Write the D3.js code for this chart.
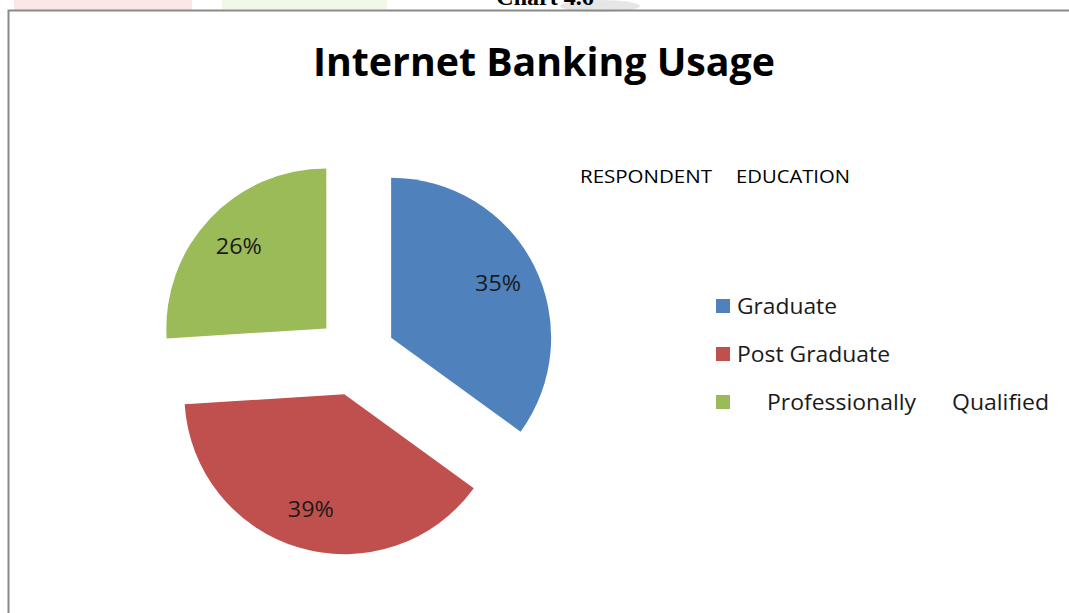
<!DOCTYPE html>
<html>
<head>
<meta charset="utf-8">
<script src="https://cdn.jsdelivr.net/npm/d3@7"></script>
<style>
  html, body { margin: 0; padding: 0; background: #fff; }
  svg { display: block; }
  text { font-family: "Open Sans", "Noto Sans", sans-serif; fill: #000; }
</style>
</head>
<body>
<svg id="chart" width="1069" height="613"></svg>
<script>
// Internet banking usage by respondent education
const categories = ["Graduate", "Post Graduate", "Professionally Qualified"];
const shares = [35, 39, 26];
const colors = ["#4F81BD", "#C0504D", "#9BBB59"];
const chartTitle = "Internet Banking Usage";
const legendTitleWords = ["RESPONDENT", "EDUCATION"];
const legendLabelParts = [["Graduate"], ["Post Graduate"], ["Professionally", "Qualified"]];

const svg = d3.select("#chart");
const W = 1069, H = 613;

// faint page colours above the chart frame
svg.append("rect").attr("x", 14).attr("y", 0).attr("width", 178).attr("height", 10)
  .attr("fill", "#fde6e6");
svg.append("rect").attr("x", 222).attr("y", 0).attr("width", 165).attr("height", 10)
  .attr("fill", "#f1f9e6");
svg.append("ellipse").attr("cx", 600).attr("cy", 6).attr("rx", 40).attr("ry", 6)
  .attr("fill", "#e6e6e6");

// caption of the figure, running off the top edge
svg.append("text")
  .attr("x", 545).attr("y", 5)
  .attr("text-anchor", "middle")
  .style("font-family", "'Liberation Serif', serif")
  .style("font-weight", "bold")
  .style("font-size", "24px")
  .text("Chart 4.6");

// chart frame
svg.append("path")
  .attr("d", `M8.5,${H} L8.5,10.5 L${W},10.5`)
  .attr("fill", "none")
  .attr("stroke", "#8a8a8a")
  .attr("stroke-width", 2);

// title
svg.append("text")
  .attr("x", 313).attr("y", 76)
  .attr("textLength", 462)
  .attr("lengthAdjust", "spacingAndGlyphs")
  .style("font-weight", "bold")
  .style("font-size", "40px")
  .text(chartTitle);

// pie
const cx = 355.5, cy = 355.8, R = 160, explode = 40, labelR = 120;
const pie = d3.pie().sort(null).value(d => d)(shares);
const arc = d3.arc().innerRadius(0).outerRadius(R);
const labelArc = d3.arc().innerRadius(labelR).outerRadius(labelR);

const g = svg.append("g").attr("transform", `translate(${cx},${cy})`);
const slices = g.selectAll("g.slice").data(pie).enter().append("g")
  .attr("class", "slice")
  .attr("transform", d => {
    const m = (d.startAngle + d.endAngle) / 2;
    return `translate(${explode * Math.sin(m)},${-explode * Math.cos(m)})`;
  });
slices.append("path")
  .attr("d", arc)
  .attr("fill", (d, i) => colors[i]);
slices.append("text")
  .attr("transform", d => `translate(${labelArc.centroid(d)})`)
  .attr("text-anchor", "middle")
  .attr("dy", "0.36em")
  .attr("textLength", 46)
  .attr("lengthAdjust", "spacingAndGlyphs")
  .style("font-size", "21px")
  .style("fill", "#1a1a1a")
  .text(d => d.data + "%");

// legend heading
const headX = [580, 736], headW = [132, 114];
legendTitleWords.forEach((w, i) => {
  svg.append("text")
    .attr("x", headX[i]).attr("y", 183)
    .attr("textLength", headW[i])
    .attr("lengthAdjust", "spacingAndGlyphs")
    .style("font-size", "19px")
    .text(w);
});

// legend entries
const rowY = d3.scalePoint().domain(categories).range([314, 410]);
const partX = [[737], [737], [767, 952]];
const partW = [[100], [153], [149, 97]];
categories.forEach((c, i) => {
  const y = rowY(c);
  svg.append("rect")
    .attr("x", 716).attr("y", y - 15)
    .attr("width", 14).attr("height", 14)
    .attr("fill", colors[i]);
  legendLabelParts[i].forEach((p, j) => {
    svg.append("text")
      .attr("x", partX[i][j]).attr("y", y)
      .attr("textLength", partW[i][j])
      .attr("lengthAdjust", "spacingAndGlyphs")
      .style("font-size", "21px")
      .style("fill", "#1a1a1a")
      .text(p);
  });
});
</script>
</body>
</html>
